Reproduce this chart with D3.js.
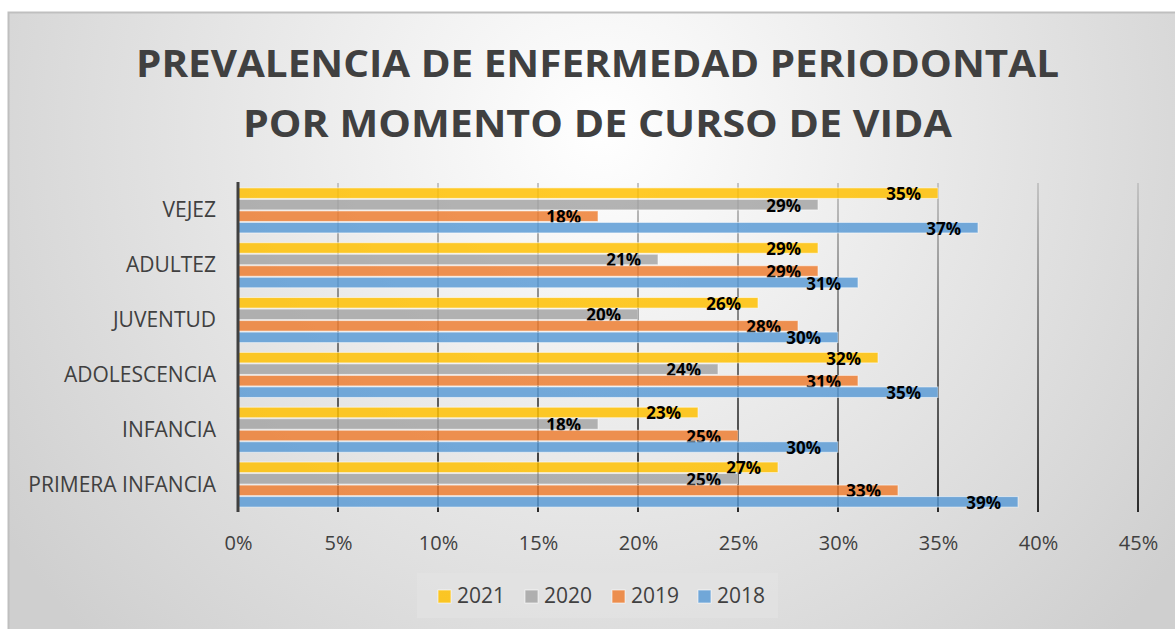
<!DOCTYPE html>
<html>
<head>
<meta charset="utf-8">
<script src="https://cdn.jsdelivr.net/npm/d3@7"></script>
<style>
  html, body { margin: 0; padding: 0; background: #fff; }
  svg { display: block; }
</style>
</head>
<body>
<div id="chart"></div>
<script>
// datos
const categories = ['VEJEZ', 'ADULTEZ', 'JUVENTUD', 'ADOLESCENCIA', 'INFANCIA', 'PRIMERA INFANCIA']
const years = ['2021', '2020', '2019', '2018']
const values2021 = [35, 29, 26, 32, 23, 27]
const values2020 = [29, 21, 20, 24, 18, 25]
const values2019 = [18, 29, 28, 31, 25, 33]
const values2018 = [37, 31, 30, 35, 30, 39]
const xTicks = [0, 5, 10, 15, 20, 25, 30, 35, 40, 45]
const titleLines = ['PREVALENCIA DE ENFERMEDAD PERIODONTAL', 'POR MOMENTO DE CURSO DE VIDA']

const seriesValues = { '2021': values2021, '2020': values2020, '2019': values2019, '2018': values2018 }
const colors = { '2021': '#FFC000', '2020': '#A5A5A5', '2019': '#ED7D31', '2018': '#5B9BD5' }

const width = 1175
const height = 629
const plot = { left: 238, right: 1138, top: 183, bottom: 512 }
const textColor = '#404040'
const font = '"Open Sans", "Liberation Sans", sans-serif'

const svg = d3.select('#chart').append('svg').attr('width', width).attr('height', height)
const defs = svg.append('defs')

// fondo con degradado radial
const bg = defs.append('radialGradient').attr('id', 'bg')
  .attr('gradientUnits', 'userSpaceOnUse')
  .attr('cx', 600).attr('cy', 130).attr('r', 720)
bg.append('stop').attr('offset', 0).attr('stop-color', '#ffffff')
bg.append('stop').attr('offset', 1).attr('stop-color', '#cfcfcf')

// degradado de las líneas de cuadrícula (claro arriba, oscuro abajo)
const gridGrad = defs.append('linearGradient').attr('id', 'gridGrad')
  .attr('gradientUnits', 'userSpaceOnUse')
  .attr('x1', 0).attr('y1', plot.top).attr('x2', 0).attr('y2', plot.bottom)
gridGrad.append('stop').attr('offset', 0).attr('stop-color', '#c4c4c4')
gridGrad.append('stop').attr('offset', 1).attr('stop-color', '#2a2a2a')

svg.append('rect')
  .attr('x', 8.5).attr('y', 12.5)
  .attr('width', width + 10).attr('height', height + 10)
  .attr('fill', 'url(#bg)')
  .attr('stroke', '#bfbfbf').attr('stroke-width', 2)

// título
const title = svg.append('g').attr('font-family', font).attr('font-weight', 700)
  .attr('fill', textColor).attr('text-anchor', 'middle')
const titleWidths = [923, 709]
const titleBaselines = [77, 137]
titleLines.forEach((line, i) => {
  title.append('text')
    .attr('x', 597.5).attr('y', titleBaselines[i])
    .attr('font-size', 38)
    .attr('textLength', titleWidths[i])
    .attr('lengthAdjust', 'spacingAndGlyphs')
    .text(line)
})

// escalas
const x = d3.scaleLinear().domain([0, 45]).range([plot.left, plot.right])
const y0 = d3.scaleBand().domain(categories).range([plot.top, plot.bottom])
  .paddingInner(0.16).paddingOuter(0.08)
const y1 = d3.scaleBand().domain(years).range([0, y0.bandwidth()])

// líneas de cuadrícula
svg.append('g')
  .selectAll('line')
  .data(xTicks.filter((d) => d > 0))
  .join('line')
  .attr('x1', (d) => x(d)).attr('x2', (d) => x(d))
  .attr('y1', plot.top).attr('y2', plot.bottom)
  .attr('stroke', 'url(#gridGrad)')
  .attr('stroke-width', 2)

// barras
const groups = svg.append('g')
  .selectAll('g')
  .data(categories)
  .join('g')
  .attr('transform', (d) => `translate(0,${y0(d)})`)

const rows = groups.selectAll('g')
  .data((c, ci) => years.map((yr) => ({ year: yr, value: seriesValues[yr][ci] })))
  .join('g')

rows.append('rect')
  .attr('x', x(0))
  .attr('y', (d) => y1(d.year) + 0.5)
  .attr('width', (d) => x(d.value) - x(0))
  .attr('height', y1.bandwidth() - 1)
  .attr('fill', (d) => colors[d.year])
  .attr('fill-opacity', 0.84)
  .attr('stroke', '#ffffff')
  .attr('stroke-opacity', 0.55)
  .attr('stroke-width', 1)

rows.append('text')
  .attr('x', (d) => x(d.value) - 17)
  .attr('y', (d) => y1(d.year) + y1.bandwidth() / 2 + 7)
  .attr('text-anchor', 'end')
  .attr('font-family', font)
  .attr('font-weight', 700)
  .attr('font-size', 17)
  .attr('fill', '#000')
  .text((d) => d.value + '%')

// eje vertical
svg.append('line')
  .attr('x1', plot.left).attr('x2', plot.left)
  .attr('y1', plot.top - 1).attr('y2', plot.bottom)
  .attr('stroke', textColor).attr('stroke-width', 3)

// etiquetas de categorías
svg.append('g')
  .selectAll('text')
  .data(categories)
  .join('text')
  .attr('x', 216)
  .attr('y', (d) => y0(d) + y0.bandwidth() / 2 + 7)
  .attr('text-anchor', 'end')
  .attr('font-family', font)
  .attr('font-size', 21)
  .attr('fill', textColor)
  .text((d) => d)

// etiquetas del eje x
const xAxis = svg.append('g')
  .attr('transform', `translate(0,${plot.bottom})`)
  .call(d3.axisBottom(x).tickValues(xTicks).tickSize(0).tickPadding(24).tickFormat((d) => d + '%'))
xAxis.select('.domain').remove()
xAxis.selectAll('text')
  .attr('font-family', font)
  .attr('font-size', 20)
  .attr('fill', textColor)

// leyenda
const legend = svg.append('g')
legend.append('rect')
  .attr('x', 417).attr('y', 573).attr('width', 361).attr('height', 45)
  .attr('fill', '#e3e3e3').attr('fill-opacity', 0.7)
const legendX = [438, 525, 612, 698]
const items = legend.selectAll('g.item')
  .data(years)
  .join('g')
  .attr('class', 'item')
  .attr('transform', (d, i) => `translate(${legendX[i]},590)`)
items.append('rect')
  .attr('width', 13).attr('height', 13)
  .attr('fill', (d) => colors[d]).attr('fill-opacity', 0.84)
  .attr('stroke', '#ffffff').attr('stroke-opacity', 0.6)
items.append('text')
  .attr('x', 19).attr('y', 13)
  .attr('font-family', font)
  .attr('font-size', 21)
  .attr('fill', textColor)
  .text((d) => d)
</script>
</body>
</html>
